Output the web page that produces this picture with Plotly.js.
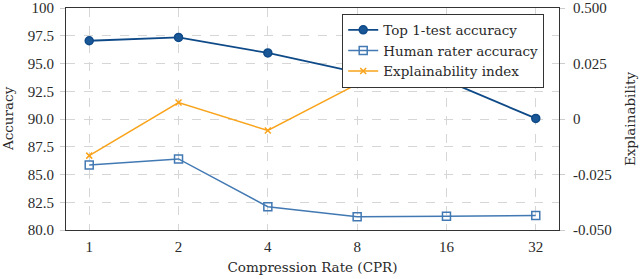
<!DOCTYPE html>
<html><head><meta charset="utf-8">
<script src="https://cdn.plot.ly/plotly-3.0.1.min.js"></script>
<style>html,body{margin:0;padding:0;background:#fff}#chart{width:640px;height:279px}</style>
</head><body><div id="chart"></div>
<script>
const categories = ["1","2","4","8","16","32"];
const top1Acc = [97.05, 97.35, 95.95, 94.2, 93.45, 90.05];
const humanAcc = [85.85, 86.4, 82.1, 81.2, 81.25, 81.3];
const explainCats = ["1","2","4","8"];
const explainIdx = [-0.0165, 0.0074, -0.0052, 0.0157];
const leftTickVals = [80, 82.5, 85, 87.5, 90, 92.5, 95, 97.5, 100];
const leftTickText = ["80.0","82.5","85.0","87.5","90.0","92.5","95.0","97.5","100"];
const rightTickVals = [-0.05, -0.025, 0, 0.025, 0.05];
const rightTickText = ["-0.050","-0.025","0","0.025","0.500"];

const tickFont = {family: "Liberation Serif, serif", size: 15, color: "#2a2a2a"};
const textFont = {family: "DejaVu Serif, serif", size: 13.5, color: "#2a2a2a"};
const traces = [
  {x: categories, y: top1Acc, name: "Top 1-test accuracy", mode: "lines+markers", yaxis: "y",
   line: {color: "#0e4a88", width: 1.8},
   marker: {symbol: "circle", size: 8, color: "#1a5797", line: {color: "#0e4a88", width: 1.5}}},
  {x: categories, y: humanAcc, name: "Human rater accuracy", mode: "lines+markers", yaxis: "y",
   line: {color: "#4279b3", width: 1.5},
   marker: {symbol: "square-open", size: 8, color: "#4279b3", line: {width: 1.5}}},
  {x: explainCats, y: explainIdx, name: "Explainability index", mode: "lines+markers", yaxis: "y2",
   line: {color: "#f9a31a", width: 1.5},
   marker: {symbol: "x-thin-open", size: 6, color: "#f9a31a", line: {color: "#f9a31a", width: 1.5}}}
];
const layout = {
  width: 640, height: 279,
  margin: {l: 66, r: 81, t: 8, b: 49},
  paper_bgcolor: "#fff", plot_bgcolor: "#fff",
  font: textFont,
  showlegend: true,
  legend: {x: 0.97, y: 0.975, xanchor: "right", yanchor: "top", bgcolor: "#fff",
           bordercolor: "#333", borderwidth: 1, font: textFont, tracegroupgap: 0},
  xaxis: {type: "category", range: [-0.26, 5.26], showgrid: true, gridcolor: "#d6d6d6", griddash: "dash",
          showline: true, linecolor: "#333", linewidth: 1, mirror: true, ticks: "", zeroline: false,
          tickfont: tickFont, ticklabelstandoff: 3,
          title: {text: "Compression Rate (CPR)", font: textFont, standoff: 8}},
  yaxis: {range: [80, 100], tickvals: leftTickVals, ticktext: leftTickText, showgrid: true,
          gridcolor: "#d6d6d6", griddash: "dash", showline: true, linecolor: "#333", linewidth: 1,
          ticks: "outside", ticklen: 5, tickcolor: "#ccc", zeroline: false, tickfont: tickFont,
          ticklabeloverflow: "allow", ticklabelstandoff: 3},
  yaxis2: {overlaying: "y", side: "right", range: [-0.05, 0.05], tickvals: rightTickVals, ticktext: rightTickText,
           showgrid: false, showline: true, linecolor: "#333", linewidth: 1, ticks: "outside", ticklen: 5,
           tickcolor: "#ccc", zeroline: false, tickfont: tickFont, ticklabeloverflow: "allow",
           ticklabelstandoff: 5,
           title: {text: "Explainability", font: textFont, standoff: 14}},
  annotations: [{text: "Accuracy", xref: "paper", yref: "paper", x: -58/493, y: 0.5,
                 xanchor: "center", yanchor: "middle", textangle: -90, showarrow: false, font: textFont}]
};
Plotly.newPlot("chart", traces, layout, {displayModeBar: false, staticPlot: true});
</script></body></html>
